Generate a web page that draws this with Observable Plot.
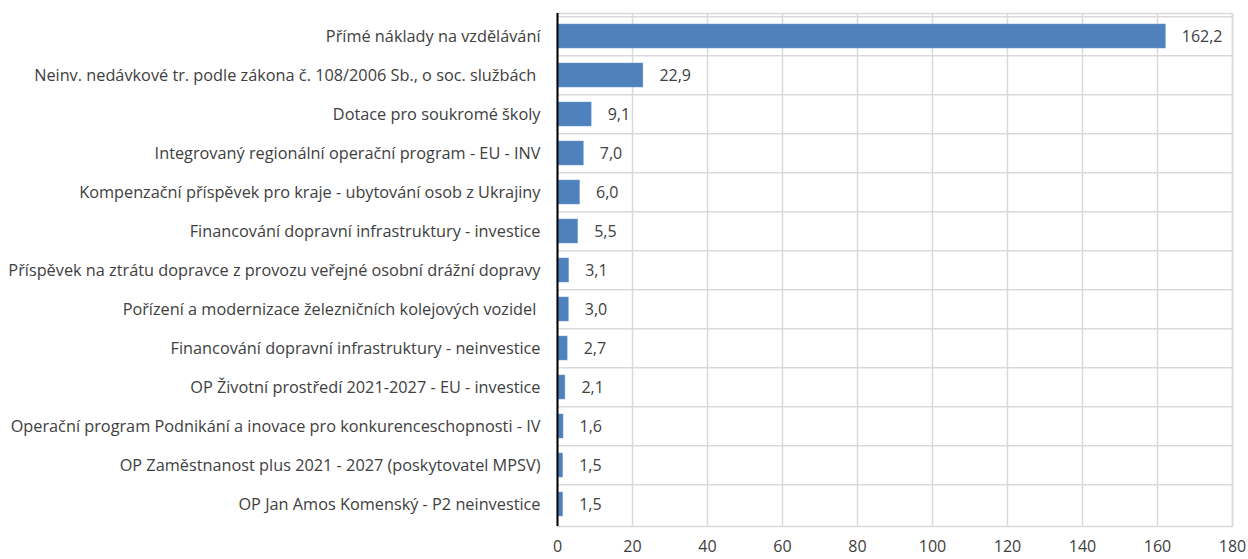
<!DOCTYPE html>
<html>
<head>
<meta charset="utf-8">
<script src="https://cdn.jsdelivr.net/npm/d3@7"></script>
<script src="https://cdn.jsdelivr.net/npm/@observablehq/plot@0.6"></script>
<style>
  html, body { margin: 0; padding: 0; background: #fff; }
  #chart svg { display: block; }
</style>
</head>
<body>
<div id="chart"></div>
<script>
const categories = [
  "Přímé náklady na vzdělávání",
  "Neinv. nedávkové tr. podle zákona č. 108/2006 Sb., o soc. službách\u00A0",
  "Dotace pro soukromé školy",
  "Integrovaný regionální operační program - EU - INV",
  "Kompenzační příspěvek pro kraje - ubytování osob z Ukrajiny",
  "Financování dopravní infrastruktury - investice",
  "Příspěvek na ztrátu dopravce z provozu veřejné osobní drážní dopravy",
  "Pořízení a modernizace železničních kolejových vozidel\u00A0",
  "Financování dopravní infrastruktury - neinvestice",
  "OP Životní prostředí 2021-2027 - EU - investice",
  "Operační program Podnikání a inovace pro konkurenceschopnosti - IV",
  "OP Zaměstnanost plus 2021 - 2027 (poskytovatel MPSV)",
  "OP Jan Amos Komenský - P2 neinvestice"
];
const values = [162.2, 22.9, 9.1, 7.0, 6.0, 5.5, 3.1, 3.0, 2.7, 2.1, 1.6, 1.5, 1.5];
const xTicks = [0, 20, 40, 60, 80, 100, 120, 140, 160, 180];

const data = categories.map((c, i) => ({category: c, value: values[i]}));
const fmt = v => v.toFixed(1).replace(".", ",");

const W = 1248, H = 559;
const mTop = 13, mBottom = 33;
const step = (H - mTop - mBottom) / categories.length;

const chart = Plot.plot({
  width: W,
  height: H,
  marginLeft: 557,
  marginRight: 16,
  marginTop: mTop,
  marginBottom: mBottom,
  style: {fontFamily: "'Open Sans', sans-serif", color: "#404040", background: "#fff"},
  x: {domain: [0, 180], ticks: xTicks},
  y: {domain: categories, paddingInner: 0.39, paddingOuter: 0.195},
  marks: [
    Plot.gridX(xTicks, {stroke: "#d9d9d9", strokeOpacity: 1, strokeWidth: 1.5}),
    Plot.ruleY(categories, {y: d => d, dy: -step / 2, stroke: "#d9d9d9", strokeWidth: 1.5}),
    Plot.frame({stroke: "#d9d9d9", strokeWidth: 1.5}),
    Plot.barX(data, {x: "value", y: "category", fill: "#4f81bd", stroke: "#6f9bd0", strokeWidth: 0.5}),
    Plot.ruleX([0], {stroke: "#000", strokeWidth: 2}),
    Plot.text(data, {x: "value", y: "category", text: d => fmt(d.value), dx: 16, textAnchor: "start", fontSize: 16, fill: "#404040"}),
    Plot.axisX(xTicks, {tickSize: 0, tickPadding: 14, fontSize: 16, fill: "#404040", label: null}),
    Plot.axisY({tickSize: 0, tickPadding: 17, fontSize: 16.3, fill: "#404040", label: null})
  ]
});
document.getElementById("chart").appendChild(chart);
</script>
</body>
</html>
